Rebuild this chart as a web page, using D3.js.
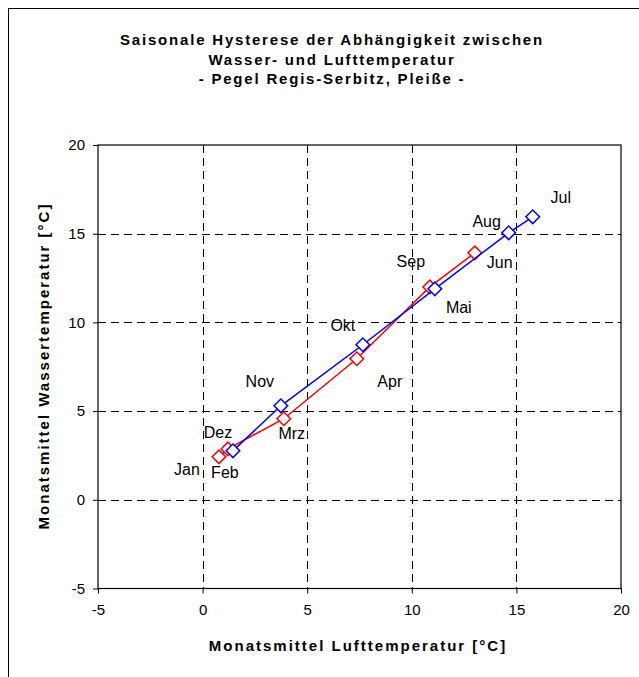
<!DOCTYPE html>
<html>
<head>
<meta charset="utf-8">
<script src="https://cdn.jsdelivr.net/npm/d3@7"></script>
<style>
  body { margin: 0; background: #fff; }
  text { font-family: "Liberation Sans", Arial, sans-serif; fill: #000; }
</style>
</head>
<body>
<svg id="chart" width="639" height="677"></svg>
<script>
// months of the first half (red) and second half (blue)
var redMonths = ["Jan", "Feb", "Mrz", "Apr", "Mai", "Jun"];
var redAir = [0.78, 1.21, 3.88, 7.37, 10.86, 13.01];
var redWater = [2.42, 2.87, 4.57, 7.95, 12.0, 13.92];

var blueMonths = ["Jul", "Aug", "Sep", "Okt", "Nov", "Dez"];
var blueAir = [15.78, 14.63, 11.1, 7.66, 3.74, 1.45];
var blueWater = [15.95, 15.05, 11.89, 8.74, 5.30, 2.76];

var ticks = [-5, 0, 5, 10, 15, 20];

var titleLines = ["Saisonale Hysterese der Abhängigkeit zwischen",
                  "Wasser- und Lufttemperatur",
                  "- Pegel Regis-Serbitz, Pleiße -"];

// label offsets in px (where excel put the data labels)
var labelOffset = {
  Jan: [-32, 13], Feb: [-3, 24], Mrz: [8, 15], Apr: [33, 23], Mai: [29, 20], Jun: [25, 10],
  Jul: [28, -19], Aug: [-22, -11], Sep: [-24, -27], Okt: [-20, -19], Nov: [-21, -24], Dez: [-15, -18]
};

var svg = d3.select('#chart');

// outer frame
svg.append('rect')
   .attr('x', 8.5).attr('y', 8.5)
   .attr('width', 700).attr('height', 700)
   .attr('fill', 'none').attr('stroke', '#000').attr('stroke-width', 1);

var x = d3.scaleLinear().domain([-5, 20]).range([98, 621]);
var y = d3.scaleLinear().domain([-5, 20]).range([588.5, 145]);

// title
svg.append('g').selectAll('text')
   .data(titleLines)
   .enter()
   .append('text')
   .attr('x', 332)
   .attr('y', (d, i) => 45 + i * 19.5)
   .attr('text-anchor', 'middle')
   .style('font-size', '15px')
   .style('font-weight', 'bold')
   .style('letter-spacing', '1.8px')
   .text((d) => d);

// grid
var grid = svg.append('g').attr('class', 'grid');
grid.selectAll('.gx')
    .data(ticks.slice(1, -1))
    .enter()
    .append('line')
    .attr('x1', (d) => Math.round(x(d)) + 0.5).attr('x2', (d) => Math.round(x(d)) + 0.5)
    .attr('y1', y(20)).attr('y2', y(-5))
    .attr('stroke', '#000').attr('stroke-dasharray', '8,5');
grid.selectAll('.gy')
    .data(ticks.slice(1, -1))
    .enter()
    .append('line')
    .attr('y1', (d) => Math.round(y(d)) + 0.5).attr('y2', (d) => Math.round(y(d)) + 0.5)
    .attr('x1', x(-5)).attr('x2', x(20))
    .attr('stroke', '#000').attr('stroke-dasharray', '8,5');

// plot frame
svg.append('rect')
   .attr('x', x(-5)).attr('y', y(20))
   .attr('width', x(20) - x(-5)).attr('height', y(-5) - y(20))
   .attr('fill', 'none').attr('stroke', '#000').attr('stroke-width', 1.2);

// axes (plain hyphen for negatives like excel)
var fmt = (d) => String(d);
var xAxis = svg.append('g')
   .attr('transform', 'translate(0,' + y(-5) + ')')
   .call(d3.axisBottom(x).tickValues(ticks).tickFormat(fmt).tickSize(5).tickPadding(11));
var yAxis = svg.append('g')
   .attr('transform', 'translate(' + x(-5) + ',0)')
   .call(d3.axisLeft(y).tickValues(ticks).tickFormat(fmt).tickSize(5).tickPadding(8));
[xAxis, yAxis].forEach((a) => {
  a.select('.domain').remove();
  a.selectAll('line').attr('stroke', '#000');
  a.selectAll('text').style('font-size', '15px').style('font-family', '"Liberation Sans", Arial, sans-serif');
});

// axis titles
svg.append('text')
   .attr('x', 358).attr('y', 651)
   .attr('text-anchor', 'middle')
   .style('font-size', '15px').style('font-weight', 'bold')
   .style('letter-spacing', '2px')
   .text('Monatsmittel Lufttemperatur [°C]');
svg.append('text')
   .attr('transform', 'translate(49,366) rotate(-90)')
   .attr('text-anchor', 'middle')
   .style('font-size', '15px').style('font-weight', 'bold')
   .style('letter-spacing', '2px')
   .text('Monatsmittel Wassertemperatur [°C]');

function drawSeries(months, air, water, color) {
  var pts = months.map((m, i) => ({month: m, air: air[i], water: water[i]}));
  var g = svg.append('g');
  g.append('path')
   .datum(pts)
   .attr('fill', 'none')
   .attr('stroke', color)
   .attr('stroke-width', 1.5)
   .attr('d', d3.line().x((d) => x(d.air)).y((d) => y(d.water)));
  g.selectAll('path.marker')
   .data(pts)
   .enter()
   .append('path')
   .attr('class', 'marker')
   .attr('transform', (d) => 'translate(' + x(d.air) + ',' + y(d.water) + ') rotate(45)')
   .attr('d', 'M-4.8,-4.8H4.8V4.8H-4.8Z')
   .attr('fill', '#fff')
   .attr('stroke', color)
   .attr('stroke-width', 1.5);
  return pts;
}

var redPts = drawSeries(redMonths, redAir, redWater, '#ff0000');
var bluePts = drawSeries(blueMonths, blueAir, blueWater, '#0000ff');

// month labels
svg.append('g').selectAll('text')
   .data(redPts.concat(bluePts))
   .enter()
   .append('text')
   .attr('x', (d) => x(d.air) + labelOffset[d.month][0])
   .attr('y', (d) => y(d.water) + labelOffset[d.month][1])
   .attr('text-anchor', 'middle')
   .attr('dy', '0.35em')
   .style('font-size', '16px')
   .text((d) => d.month);
</script>
</body>
</html>
